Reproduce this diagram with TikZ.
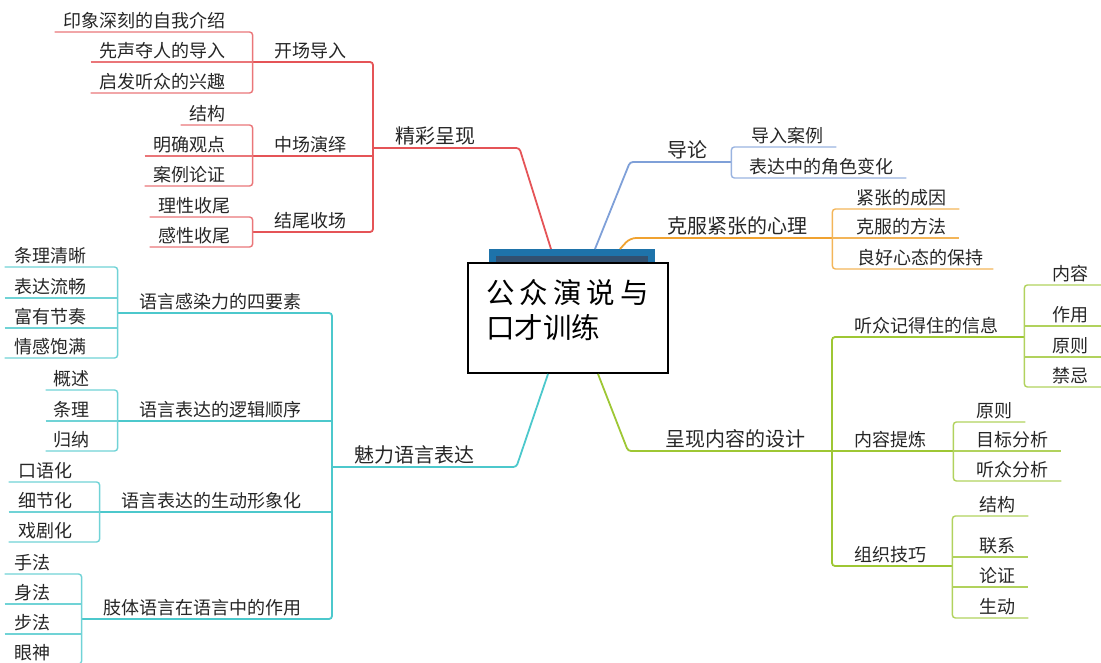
\documentclass[tikz,border=0pt]{standalone}
\usepackage{fontspec}
\setmainfont{Noto Sans CJK SC}
\setlength{\parindent}{0pt}
\definecolor{rbr}{RGB}{229,84,87}
\definecolor{cbr}{RGB}{76,200,204}
\definecolor{bbr}{RGB}{127,160,216}
\definecolor{obr}{RGB}{240,162,48}
\definecolor{gbr}{RGB}{158,199,52}
\definecolor{tabblue}{RGB}{30,115,170}
\definecolor{tabdark}{RGB}{50,80,112}
\definecolor{tabmid}{RGB}{118,138,160}
\tikzset{
  br/.style={draw=#1, line width=1.8pt, rounded corners=3pt},
  lf/.style={draw=#1!80, line width=1.4pt, rounded corners=3pt},
  lv1/.style={font=\fontsize{20}{20}\selectfont, text=black!85, inner xsep=0pt, inner ysep=4.4pt,
    text height=15.2pt, text depth=0pt, align=left, text width=#1},
  lv1L/.style={lv1=#1, execute at begin node={\hspace*{22pt}}},
  lv1R/.style={lv1=#1, execute at begin node={\hspace*{37pt}}},
  lv2/.style={font=\fontsize{18}{18}\selectfont, text=black!85, inner xsep=0pt, inner ysep=4.6pt,
    text height=13.7pt, text depth=0pt, align=left, text width=#1,
    execute at begin node={\hspace*{22pt}}},
  leaf/.style={font=\fontsize{18}{18}\selectfont, text=black!85, inner xsep=0pt, inner ysep=4.6pt,
    text height=13.7pt, text depth=0pt},
  ttl/.style={font=\fontsize{28.5}{35}\selectfont, text=black, align=left, inner sep=0pt}
}
\begin{document}
\begin{tikzpicture}[x=1pt,y=-1pt]
	\useasboundingbox (0,0) rectangle (1101,663);
	\clip (0,0) rectangle (1101,663);
	% centre
	\node[draw=tabblue, line width=7pt, left color=tabdark, middle color=tabmid, right color=tabdark,
	  minimum width=159pt, minimum height=19pt, inner sep=0pt, anchor=north] (tab) at (572,249) {};
	\node[draw=black, line width=2pt, fill=white, minimum width=200pt, minimum height=110pt,
	  inner sep=0pt] (root) at (568,318) {};
	\node[ttl, anchor=west] (title) at (486,310.5) {公\kern5pt众\kern5pt演\kern5pt说\kern5pt与\\口才训练};

	% upper left: red
	\node[lv1L=146pt, anchor=south west] (jc) at (373,148) {精彩呈现};
	\node[lv2=120pt, anchor=south east] (kc) at (373,62) {开场导入};
	\node[lv2=120pt, anchor=south east] (zy) at (373,156) {中场演绎};
	\node[lv2=120pt, anchor=south east] (jw) at (373,232) {结尾收场};
	\node[leaf, anchor=south east] (kc1) at (226,32) {印象深刻的自我介绍};
	\node[leaf, anchor=south east] (kc2) at (226,62) {先声夺人的导入};
	\node[leaf, anchor=south east] (kc3) at (226,93) {启发听众的兴趣};
	\node[leaf, anchor=south east] (zy1) at (226,125) {结构};
	\node[leaf, anchor=south east] (zy2) at (226,156) {明确观点};
	\node[leaf, anchor=south east] (zy3) at (226,186) {案例论证};
	\node[leaf, anchor=south east] (jw1) at (231,217) {理性收尾};
	\node[leaf, anchor=south east] (jw2) at (231,247) {感性收尾};
	\draw[br=rbr] (kc.south west) -- (kc.south east) -- (jw.south east) -- (jw.south west);
	\draw[br=rbr] (zy.south west) -- (zy.south east);
	\draw[br=rbr] (jc.south west) -- (jc.south east) -- ([xshift=-21pt]tab.north);
	\draw[lf=rbr] ([xshift=-9pt]kc1.south west) -- (kc1.south -| kc.south west)
	  -- (kc3.south -| kc.south west) -- ([xshift=-9pt]kc3.south west);
	\draw[lf=rbr] ([xshift=-9pt]kc2.south west) -- (kc.south west);
	\draw[lf=rbr] ([xshift=-9pt]zy1.south west) -- (zy1.south -| zy.south west)
	  -- (zy3.south -| zy.south west) -- ([xshift=-9pt]zy3.south west);
	\draw[lf=rbr] ([xshift=-9pt]zy2.south west) -- (zy.south west);
	\draw[lf=rbr] ([xshift=-9pt]jw1.south west) -- (jw1.south -| jw.south west)
	  -- (jw2.south -| jw.south west) -- ([xshift=-9pt]jw2.south west);

	% lower left: cyan
	\node[lv1L=184pt, anchor=south west] (ml) at (332,467) {魅力语言表达};
	\node[lv2=214pt, anchor=south east] (gr) at (332,313) {语言感染力的四要素};
	\node[lv2=214pt, anchor=south east] (lj) at (332,421) {语言表达的逻辑顺序};
	\node[lv2=232pt, anchor=south east] (sd) at (332,512) {语言表达的生动形象化};
	\node[lv2=250pt, anchor=south east] (zt) at (332,619) {肢体语言在语言中的作用};
	\node[leaf, anchor=south east] (gr1) at (87,267) {条理清晰};
	\node[leaf, anchor=south east] (gr2) at (87,298) {表达流畅};
	\node[leaf, anchor=south east] (gr3) at (87,328) {富有节奏};
	\node[leaf, anchor=south east] (gr4) at (87,358) {情感饱满};
	\node[leaf, anchor=south east] (lj1) at (90,390) {概述};
	\node[leaf, anchor=south east] (lj2) at (90,421) {条理};
	\node[leaf, anchor=south east] (lj3) at (90,451) {归纳};
	\node[leaf, anchor=south east] (sd1) at (73,482) {口语化};
	\node[leaf, anchor=south east] (sd2) at (73,512) {细节化};
	\node[leaf, anchor=south east] (sd3) at (73,542) {戏剧化};
	\node[leaf, anchor=south east] (zt1) at (51,574) {手法};
	\node[leaf, anchor=south east] (zt2) at (51,604) {身法};
	\node[leaf, anchor=south east] (zt3) at (51,634) {步法};
	\node[leaf, anchor=south east] (zt4) at (51,664) {眼神};
	\draw[br=cbr] (gr.south west) -- (gr.south east) -- (zt.south east) -- (zt.south west);
	\draw[br=cbr] (lj.south west) -- (lj.south east);
	\draw[br=cbr] (sd.south west) -- (sd.south east);
	\draw[br=cbr] ([xshift=-20pt]root.south) -- (ml.south east) -- (ml.south west);
	\draw[lf=cbr] ([xshift=-10pt]gr1.south west) -- (gr1.south -| gr.south west)
	  -- (gr4.south -| gr.south west) -- ([xshift=-10pt]gr4.south west);
	\draw[lf=cbr] ([xshift=-10pt]gr2.south west) -- (gr2.south -| gr.south west);
	\draw[lf=cbr] ([xshift=-10pt]gr3.south west) -- (gr3.south -| gr.south west);
	\draw[lf=cbr] ([xshift=-8pt]lj1.south west) -- (lj1.south -| lj.south west)
	  -- (lj3.south -| lj.south west) -- ([xshift=-8pt]lj3.south west);
	\draw[lf=cbr] ([xshift=-8pt]lj2.south west) -- (lj.south west);
	\draw[lf=cbr] ([xshift=-10pt]sd1.south west) -- (sd1.south -| sd.south west)
	  -- (sd3.south -| sd.south west) -- ([xshift=-10pt]sd3.south west);
	\draw[lf=cbr] ([xshift=-10pt]sd2.south west) -- (sd.south west);
	\draw[lf=cbr] ([xshift=-10pt]zt1.south west) -- (zt1.south -| zt.south west)
	  -- (zt4.south -| zt.south west) -- ([xshift=-10pt]zt4.south west);
	\draw[lf=cbr] ([xshift=-10pt]zt2.south west) -- (zt2.south -| zt.south west);
	\draw[lf=cbr] ([xshift=-10pt]zt3.south west) -- (zt3.south -| zt.south west);

	% upper right: blue and orange
	\node[lv1R=101pt, anchor=south west] (dl) at (630,162) {导论};
	\node[leaf, anchor=south west] (dl1) at (751,147) {导入案例};
	\node[leaf, anchor=south west] (dl2) at (749,178) {表达中的角色变化};
	\draw[br=bbr] ([xshift=23pt]tab.north) -- (dl.south west) -- (dl.south east);
	\draw[lf=bbr] ([xshift=13pt]dl1.south east) -- (dl1.south -| dl.south east)
	  -- (dl2.south -| dl.south east) -- ([xshift=13pt]dl2.south east);
	\node[lv1R=202pt, anchor=south west] (kf) at (630,238) {克服紧张的心理};
	\node[leaf, anchor=south west] (kf1) at (856,209) {紧张的成因};
	\node[leaf, anchor=south west] (kf2) at (856,238) {克服的方法};
	\node[leaf, anchor=south west] (kf3) at (857,269) {良好心态的保持};
	\draw[br=obr, rounded corners=6pt] ([xshift=48pt]tab.north) -- (kf.south west) -- (kf.south east);
	\draw[lf=obr] ([xshift=13pt]kf1.south east) -- (kf1.south -| kf.south east)
	  -- (kf3.south -| kf.south east) -- ([xshift=10pt]kf3.south east);
	\draw[lf=obr] (kf.south east) -- ([xshift=13pt]kf2.south east);

	% lower right: green
	\node[lv1R=204pt, anchor=south west] (cx) at (628,451) {呈现内容的设计};
	\node[lv2=192pt, anchor=south west] (jd) at (832,337) {听众记得住的信息};
	\node[lv2=121pt, anchor=south west] (nr) at (832,451) {内容提炼};
	\node[lv2=120pt, anchor=south west] (zz) at (832,566) {组织技巧};
	\node[leaf, anchor=south west] (jd1) at (1052,285) {内容};
	\node[leaf, anchor=south west] (jd2) at (1052,326) {作用};
	\node[leaf, anchor=south west] (jd3) at (1052,357) {原则};
	\node[leaf, anchor=south west] (jd4) at (1052,387) {禁忌};
	\node[leaf, anchor=south west] (nr1) at (976,422) {原则};
	\node[leaf, anchor=south west] (nr2) at (976,451) {目标分析};
	\node[leaf, anchor=south west] (nr3) at (976,481) {听众分析};
	\node[leaf, anchor=south west] (zz1) at (979,516) {结构};
	\node[leaf, anchor=south west] (zz2) at (979,557) {联系};
	\node[leaf, anchor=south west] (zz3) at (979,587) {论证};
	\node[leaf, anchor=south west] (zz4) at (979,618) {生动};
	\draw[br=gbr] (jd.south east) -- (jd.south west) -- (zz.south west) -- (zz.south east);
	\draw[br=gbr] (nr.south west) -- (nr.south east);
	\draw[br=gbr] ([xshift=30pt]root.south) -- (cx.south west) -- (cx.south east);
	\draw[lf=gbr] ([xshift=13pt]jd1.south east) -- (jd1.south -| jd.south east)
	  -- (jd4.south -| jd.south east) -- ([xshift=13pt]jd4.south east);
	\draw[lf=gbr] (jd2.south -| jd.south east) -- ([xshift=13pt]jd2.south east);
	\draw[lf=gbr] (jd3.south -| jd.south east) -- ([xshift=13pt]jd3.south east);
	\draw[lf=gbr] ([xshift=13pt]nr1.south east) -- (nr1.south -| nr.south east)
	  -- (nr3.south -| nr.south east) -- ([xshift=13pt]nr3.south east);
	\draw[lf=gbr] (nr.south east) -- ([xshift=13pt]nr2.south east);
	\draw[lf=gbr] ([xshift=13pt]zz1.south east) -- (zz1.south -| zz.south east)
	  -- (zz4.south -| zz.south east) -- ([xshift=13pt]zz4.south east);
	\draw[lf=gbr] (zz2.south -| zz.south east) -- ([xshift=13pt]zz2.south east);
	\draw[lf=gbr] (zz3.south -| zz.south east) -- ([xshift=13pt]zz3.south east);
\end{tikzpicture}
\end{document}
